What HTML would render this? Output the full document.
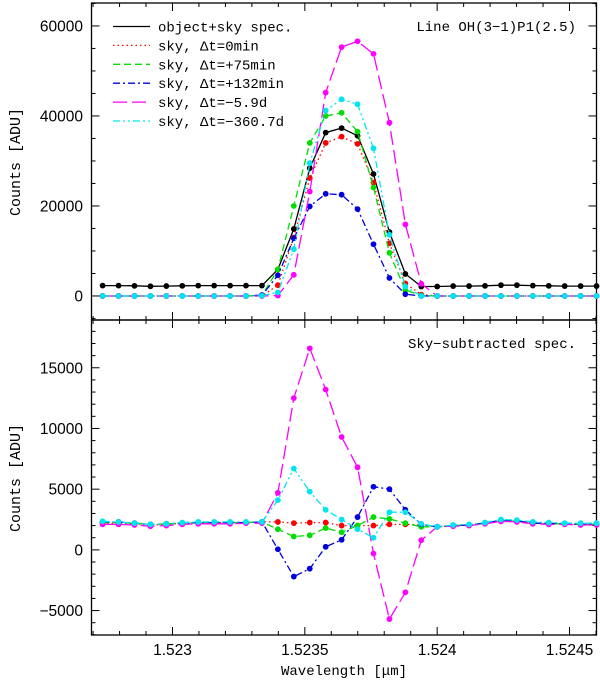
<!DOCTYPE html>
<html><head><meta charset="utf-8"><style>
body{margin:0;background:#fff;}
svg{display:block;}
text{font-family:"Liberation Sans",sans-serif;fill:#000;}
.mono{font-family:"Liberation Mono",monospace;}
</style></head><body>
<svg id="chart" width="600" height="681" viewBox="0 0 600 681" xmlns="http://www.w3.org/2000/svg"></svg>
<script>
// ---- data ----
const wavelengthStart = 1.522736;   // micron, first pixel
const wavelengthStep = 0.0000602;   // micron per pixel
const topObject = [2300,2300,2250,2150,2200,2250,2300,2300,2300,2300,2300,5900,14900,28400,36300,37300,35600,27100,14200,4900,2100,2100,2200,2200,2250,2400,2400,2300,2250,2200,2200,2200];
const topSky0 = [0,0,0,0,0,0,0,0,0,0,0,2400,13000,26200,34000,35400,33800,25200,11700,2800,300,0,0,0,0,0,0,0,0,0,0,0];
const topSky75 = [0,0,0,0,0,0,0,0,0,0,100,5900,20000,34000,40000,40700,36500,24100,9600,1300,100,0,0,0,0,0,0,0,0,0,0,0];
const topSky132 = [0,0,0,0,0,0,0,0,0,0,200,4600,12800,19900,22700,22500,19300,11500,4000,400,0,0,0,0,0,0,0,0,0,0,0,0];
const topSky59d = [0,0,0,0,0,0,0,0,0,0,0,100,4700,23200,45200,55300,56600,53800,38500,15900,2700,0,0,0,0,0,0,0,0,0,0,0];
const topSky360d = [0,0,0,0,0,0,0,0,0,0,50,800,10400,29500,41200,43700,42600,32800,13600,2100,0,0,0,0,0,0,0,0,0,0,0,0];
const botSub0 = [2200,2200,2150,2050,2100,2200,2250,2250,2250,2250,2300,2300,2200,2250,2250,2000,2000,2000,2100,2100,2050,1900,2000,2050,2200,2400,2350,2200,2150,2150,2100,2100];
const botSub75 = [2250,2250,2200,2100,2150,2200,2250,2250,2250,2250,2300,1700,1100,1200,1800,1450,2000,2700,2550,2200,1900,1900,2000,2050,2200,2400,2350,2200,2150,2150,2100,2100];
const botSub132 = [2300,2300,2200,2100,2150,2200,2250,2250,2250,2250,2300,50,-2200,-1550,250,830,2700,5200,5000,3300,2100,1900,2000,2050,2200,2450,2400,2200,2200,2150,2100,2150];
const botSub59d = [2100,2100,2050,1950,2000,2100,2150,2150,2150,2200,2200,4700,12500,16600,13200,9300,6800,-300,-5700,-3500,800,1900,1950,2000,2150,2350,2300,2150,2100,2100,2050,2050];
const botSub360d = [2350,2300,2200,2100,2150,2250,2300,2300,2300,2300,2300,4100,6700,4800,3300,2500,1700,1000,3100,3100,2150,1900,2050,2100,2250,2500,2450,2300,2250,2200,2200,2200];
const xTickValues = [1.523, 1.5235, 1.524, 1.5245];
const xTickLabels = ["1.523", "1.5235", "1.524", "1.5245"];
const topYTicks = [0, 20000, 40000, 60000];
const botYTicks = [-5000, 0, 5000, 10000, 15000];
const legendLabels = ["object+sky spec.", "sky, \u0394t=0min", "sky, \u0394t=+75min", "sky, \u0394t=+132min", "sky, \u0394t=\u22125.9d", "sky, \u0394t=\u2212360.7d"];

// ---- layout ----
const NS = "http://www.w3.org/2000/svg";
const svg = document.getElementById('chart');
const L = 91.5, R = 596.5;
const xMin = 1.522694, xMax = 1.524602;
const topP = {t:3, b:320, vmin:-5340, vmax:65100};
const botP = {t:320, b:635, vmin:-7013, vmax:18935};
function X(w){ return L + (w - xMin)/(xMax - xMin)*(R - L); }
function Yf(p){ return v => p.b - (v - p.vmin)/(p.vmax - p.vmin)*(p.b - p.t); }
const Yt = Yf(topP), Yb = Yf(botP);
function el(tag, attrs, parent){ const e=document.createElementNS(NS,tag); for(const k in attrs) e.setAttribute(k,attrs[k]); (parent||svg).appendChild(e); return e; }

const styles = [
  {c:'#000000', d:''},
  {c:'#ff0000', d:'1.5 3'},
  {c:'#00dd00', d:'7 4'},
  {c:'#0000dd', d:'7 3 2 3'},
  {c:'#ff00ff', d:'14 5'},
  {c:'#00e5ee', d:'7 3 2 3 2 3'}
];
const names = ['object-sky','sky-0min','sky-75min','sky-132min','sky-5.9d','sky-360.7d'];

function drawSeries(vals, Y, s, name, panel){
  const g = el('g', {});
  
  
  const pts = vals.map((v,i)=> X(wavelengthStart + i*wavelengthStep).toFixed(1)+','+Y(v).toFixed(1)).join(' ');
  const pl = el('polyline', {points:pts, fill:'none', stroke:s.c, 'stroke-width':1.3, 'stroke-dasharray':s.d}, g);
  
  
  vals.forEach((v,i)=>{
    const c = el('circle', {cx:X(wavelengthStart + i*wavelengthStep), cy:Y(v), r:2.9, fill:s.c}, g);
    
    
  });
}

function drawAxes(p, Y, majorTicks, majorStep, minorStep, panel, showXLabels){
  const f = el('rect', {x:L, y:p.t, width:R-L, height:p.b-p.t, fill:'none', stroke:'#000', 'stroke-width':1.3});
  
  
  for(let k=15226; k<=15246; k++){
    const w = k/10000; if(w<xMin||w>xMax) continue;
    const x = X(w); const major = (k%5===0); const len = major?8:4;
    el('line',{x1:x,y1:p.b,x2:x,y2:p.b-len,stroke:'#000','stroke-width':1});
    el('line',{x1:x,y1:p.t,x2:x,y2:p.t+len,stroke:'#000','stroke-width':1});
  }
  const start = Math.ceil(p.vmin/minorStep)*minorStep;
  for(let v=start; v<=p.vmax; v+=minorStep){
    const y = Y(v); const major = (Math.round(v)%majorStep===0); const len = major?8:4;
    el('line',{x1:L,y1:y,x2:L+len,y2:y,stroke:'#000','stroke-width':1});
    el('line',{x1:R,y1:y,x2:R-len,y2:y,stroke:'#000','stroke-width':1});
  }
  majorTicks.forEach(v=>{
    const t = el('text',{x:83,y:Y(v)+5.5,'text-anchor':'end','font-size':15.5});
    t.textContent = String(v).replace('-','\u2212');
    
    
  });
  if(showXLabels){
    xTickValues.forEach((w,i)=>{
      const t = el('text',{x:X(w),y:655,'text-anchor':'middle','font-size':15.5});
      t.textContent = xTickLabels[i];
      
      
    });
  }
}

drawAxes(topP, Yt, topYTicks, 20000, 5000, 'top', false);
drawAxes(botP, Yb, botYTicks, 5000, 1000, 'bottom', true);

const topData = [topObject, topSky0, topSky75, topSky132, topSky59d, topSky360d];
topData.forEach((d,i)=>drawSeries(d, Yt, styles[i], names[i], 'top'));
const botData = [botSub0, botSub75, botSub132, botSub59d, botSub360d];
botData.forEach((d,i)=>drawSeries(d, Yb, styles[i+1], names[i+1], 'bottom'));

legendLabels.forEach((lab,i)=>{
  const y = 26.5 + i*18.9;
  const g = el('g',{});
  
  
  el('line',{x1:113,y1:y,x2:150,y2:y,stroke:styles[i].c,'stroke-width':1.3,'stroke-dasharray':styles[i].d},g);
  const t = el('text',{x:158,y:y+5,'font-size':14,'class':'mono'},g);
  t.textContent = lab;
});

const a1 = el('text',{x:576,y:31,'text-anchor':'end','font-size':14,'class':'mono'});
a1.textContent = 'Line OH(3\u22121)P1(2.5)';


const a2 = el('text',{x:576,y:348,'text-anchor':'end','font-size':14,'class':'mono'});
a2.textContent = 'Sky\u2212subtracted spec.';



const yt1 = el('text',{x:0,y:0,'text-anchor':'middle','font-size':15,'class':'mono',transform:'translate(20,162) rotate(-90)'});
yt1.textContent = 'Counts [ADU]';


const yt2 = el('text',{x:0,y:0,'text-anchor':'middle','font-size':15,'class':'mono',transform:'translate(20,478) rotate(-90)'});
yt2.textContent = 'Counts [ADU]';


const xt = el('text',{x:344,y:675,'text-anchor':'middle','font-size':14,'class':'mono'});
xt.textContent = 'Wavelength [\u03bcm]';


</script>
</body></html>
